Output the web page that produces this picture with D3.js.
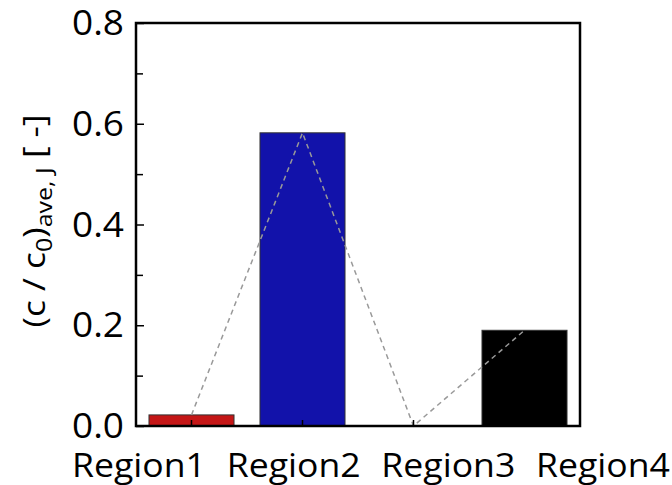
<!DOCTYPE html>
<html><head><meta charset="utf-8">
<script src="https://cdn.jsdelivr.net/npm/d3@7"></script>
<style>body{margin:0;background:#fff}svg{display:block}text{font-family:"Open Sans",sans-serif;fill:#000}</style>
</head><body><svg id="c" width="672" height="485"></svg>
<script>
const categories = ["Region1","Region2","Region3","Region4"];
const values = [0.022, 0.582, 0.0, 0.19];
const barColors = ["#c41616","#1212aa","#000000","#000000"];
const yTicks = [0.0,0.2,0.4,0.6,0.8];
const yMinor = [0.1,0.3,0.5,0.7];

const svg = d3.select("#c");
const L=136,R=580,T=23,B=426;
const x = d3.scaleBand().domain(categories).range([L,R]).paddingInner(0.234).paddingOuter(0.117);
const y = d3.scaleLinear().domain([0,0.8]).range([B,T]);
const xl = d3.scalePoint().domain(categories).range([139,603]);

// bars
svg.selectAll("rect.bar").data(categories).join("rect")
  .attr("x",d=>x(d)).attr("width",x.bandwidth())
  .attr("y",(d,i)=>y(values[i])).attr("height",(d,i)=>y(0)-y(values[i]))
  .attr("fill",(d,i)=>barColors[i]).attr("stroke","#333").attr("stroke-width",1);

// dashed line
const line = d3.line().x((d,i)=>x(categories[i])+x.bandwidth()/2).y(d=>y(d));
svg.append("path").attr("d",line(values)).attr("fill","none")
  .attr("stroke","#999").attr("stroke-width",1.5).attr("stroke-dasharray","5,4");

// y axis ticks inward
const gy = svg.append("g").attr("transform",`translate(${L},0)`)
  .call(d3.axisRight(y).tickValues(yTicks).tickSize(8).tickFormat(""));
const gy2 = svg.append("g").attr("transform",`translate(${L},0)`)
  .call(d3.axisRight(y).tickValues(yMinor).tickSize(7).tickFormat(""));
[gy,gy2].forEach(g=>{g.select(".domain").remove();g.selectAll("line").attr("stroke","#000").attr("stroke-width",1.5);});

function fitX(sel, target){
  sel.each(function(){
    const w = this.getBBox().width;
    const cx = +this.getAttribute("data-x"), by = +this.getAttribute("data-y");
    this.setAttribute("x",0); this.setAttribute("y",0);
    this.setAttribute("transform",`translate(${cx},${by}) scale(${target/w},1)`);
  });
}

const yt = svg.selectAll("text.yt").data(yTicks).join("text").attr("class","yt")
  .attr("data-x",124).attr("data-y",d=>y(d)+12).attr("text-anchor","end")
  .attr("font-size",34).text(d=>d3.format(".1f")(d));
fitX(yt, 52);

// x ticks inward
const gx = svg.append("g").attr("transform",`translate(0,${B})`)
  .call(d3.axisTop(x).tickSize(6).tickFormat(""));
gx.select(".domain").remove();
gx.selectAll("line").attr("stroke","#000").attr("stroke-width",1.5);

const xt = svg.selectAll("text.xt").data(categories).join("text").attr("class","xt")
  .attr("data-x",d=>xl(d)).attr("data-y",477).attr("text-anchor","middle")
  .attr("font-size",33).text(d=>d);
fitX(xt, 134);

// frame
svg.append("rect").attr("x",L).attr("y",T).attr("width",R-L).attr("height",B-T)
  .attr("fill","none").attr("stroke","#000").attr("stroke-width",2.5);

// y label
const yl = svg.append("text").attr("text-anchor","middle").attr("font-size",31).attr("x",0).attr("y",0);
yl.append("tspan").text("(c / c");
yl.append("tspan").attr("font-size",22).attr("dy",7).text("0");
yl.append("tspan").attr("dy",-7).text(")");
yl.append("tspan").attr("font-size",22).attr("dy",7).text("ave, J");
yl.append("tspan").attr("dy",-7).text(" [ -]");
const ylw = yl.node().getBBox().width;
yl.attr("transform",`translate(45,221) rotate(-90) scale(${213/ylw},1)`);
</script></body></html>
